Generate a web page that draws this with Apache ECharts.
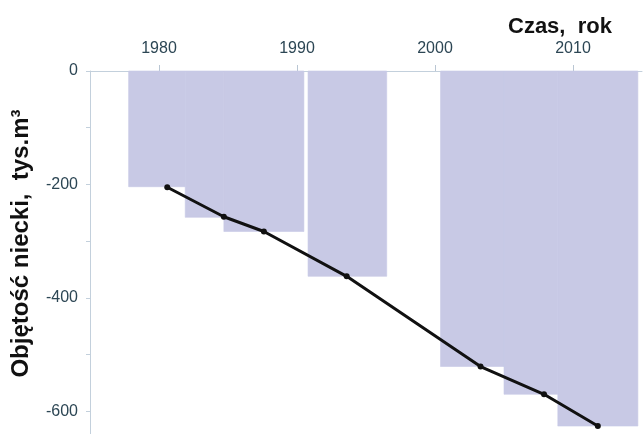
<!DOCTYPE html>
<html>
<head>
<meta charset="utf-8">
<script src="https://cdn.jsdelivr.net/npm/echarts@6/dist/echarts.min.js"></script>
<style>
html,body{margin:0;padding:0;background:#fff;}
#chart{width:644px;height:434px;}
</style>
</head>
<body>
<div id="chart"></div>
<script>
// Bars: survey periods (start year, end year) and basin volume (thousand m3)
var barStart = [1977.8, 1981.9, 1984.7, 1990.8, 2000.4, 2005.0, 2008.9];
var barEnd   = [1981.9, 1984.7, 1990.5, 1996.5, 2005.0, 2008.9, 2014.7];
var barValue = [-204, -258, -283, -362, -521, -570, -626];

// Line points
var lineYears  = [1980.6, 1984.7, 1987.6, 1993.6, 2003.3, 2007.9, 2011.8];
var lineValues = [-205, -257, -283, -362, -521, -570, -626];

// Tick labels
var xTicks = [1980, 1990, 2000, 2010];
var yTicks = [0, -200, -400, -600];
var yMinorTicks = [0, -100, -200, -300, -400, -500, -600];

var barData = barStart.map(function (s, i) { return [s, barEnd[i], barValue[i]]; });
var lineData = lineYears.map(function (y, i) { return [y, lineValues[i]]; });

var chart = echarts.init(document.getElementById('chart'), null, {renderer: 'canvas'});
chart.setOption({
  animation: false,
  backgroundColor: '#ffffff',
  title: {
    text: 'Czas,  rok',
    left: 503,
    top: 11,
    textStyle: {fontFamily: 'Liberation Sans, Arial, sans-serif', fontSize: 22, fontWeight: 'bold', color: '#111111'}
  },
  grid: {left: 90, right: 2, top: 71, bottom: 0, containLabel: false},
  xAxis: {
    type: 'value',
    position: 'top',
    min: 1975,
    max: 2015,
    axisLine: {show: true, lineStyle: {color: '#c3d0dc', width: 1}},
    axisTick: {show: true, length: 6, customValues: xTicks, lineStyle: {color: '#b9c6d3'}},
    axisLabel: {
      customValues: xTicks,
      formatter: function (v) { return String(v); },
      margin: 14,
      fontFamily: 'Liberation Sans, Arial, sans-serif',
      fontSize: 16,
      color: '#2c4654'
    },
    splitLine: {show: false}
  },
  yAxis: {
    type: 'value',
    min: -640,
    max: 0,
    name: 'Objętość niecki,  tys.m³',
    nameLocation: 'middle',
    nameRotate: 90,
    nameGap: 57,
    nameTextStyle: {
      fontFamily: 'Liberation Sans, Arial, sans-serif',
      fontSize: 24,
      fontWeight: 'bold',
      color: '#111111',
      padding: [0, 0, 0, 18]
    },
    axisLine: {show: true, onZero: false, lineStyle: {color: '#c3d0dc', width: 1}},
    axisTick: {show: true, inside: false, length: 4, customValues: yMinorTicks, lineStyle: {color: '#c3d0dc'}},
    axisLabel: {
      customValues: yTicks,
      formatter: function (v) { return String(v); },
      margin: 12,
      fontFamily: 'Liberation Sans, Arial, sans-serif',
      fontSize: 16,
      color: '#2c4654'
    },
    splitLine: {show: false}
  },
  series: [
    {
      type: 'custom',
      data: barData,
      encode: {x: [0, 1], y: 2},
      renderItem: function (params, api) {
        var p0 = api.coord([api.value(0), 0]);
        var p1 = api.coord([api.value(1), api.value(2)]);
        return {
          type: 'rect',
          shape: {x: p0[0], y: p0[1], width: p1[0] - p0[0], height: p1[1] - p0[1]},
          style: {fill: '#c8c9e5', stroke: '#c8c9e5', lineWidth: 0.6}
        };
      },
      z: 1
    },
    {
      type: 'line',
      data: lineData,
      symbol: 'circle',
      symbolSize: 6,
      itemStyle: {color: '#111111'},
      lineStyle: {color: '#111111', width: 3},
      z: 3
    }
  ]
});
</script>
</body>
</html>
